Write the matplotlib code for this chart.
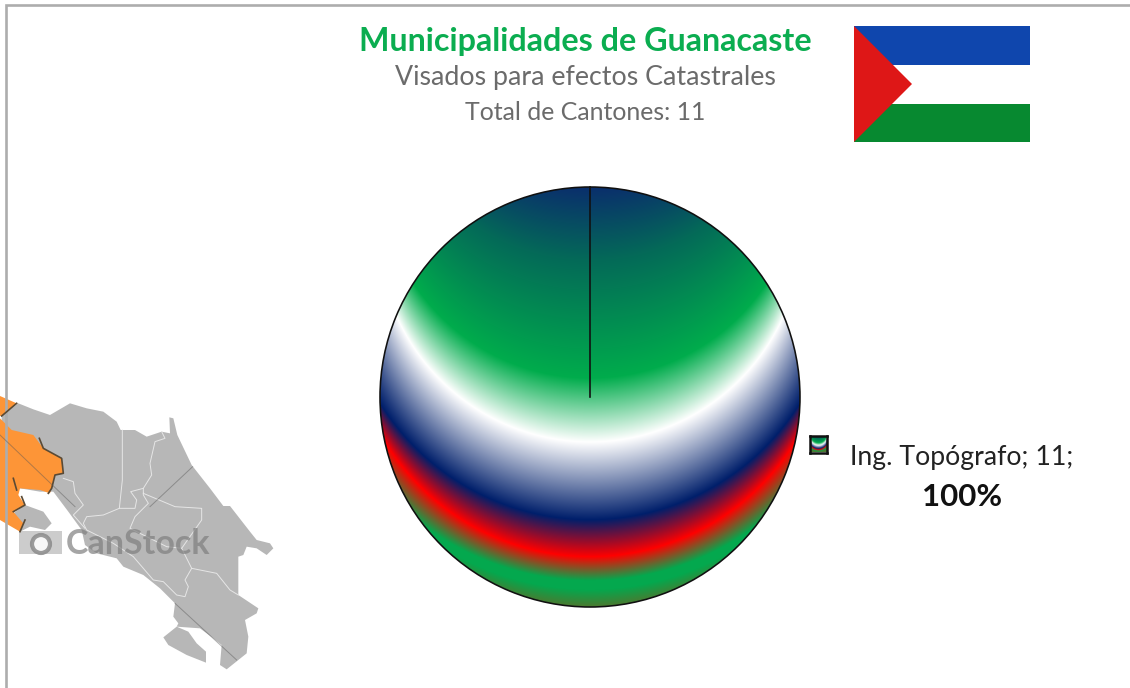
import numpy as np
import matplotlib
matplotlib.use("Agg")
import matplotlib.pyplot as plt
from matplotlib.colors import to_rgb
from matplotlib.patches import Polygon, Rectangle, Circle

plt.rcParams['font.family'] = ['Lato', 'DejaVu Sans']

# data
categories = ["Ing. Topógrafo"]
values = [11]
title = "Municipalidades de Guanacaste"
subtitle = "Visados para efectos Catastrales"
total_label = "Total de Cantones: 11"
percent_label = "100%"

W, H = 1130, 688
fig = plt.figure(figsize=(W / 100, H / 100), dpi=100, facecolor="white")
bg = fig.add_axes([0, 0, 1, 1])
bg.set_xlim(0, W)
bg.set_ylim(H, 0)
bg.axis("off")

# chart frame
bg.plot([5.5, 5.5, 1130], [688, 5, 5], color="#adadad", lw=1.9, solid_joinstyle="miter")

# gradient stops: bottom-of-band pixel row, arc radius, colour
grad_y = [187, 260, 378, 442, 520, 557, 581, 590, 607]
grad_r = [212, 212, 212, 212, 248, 241, 280, 280, 280]
grad_c = ["#0a2f6c", "#046a58", "#00ac4c", "#ffffff", "#001f6b", "#ff0000", "#04a84e", "#04a84e", "#4a7a30"]
CX, CY, RAD = 590, 397, 210


def gradient(n):
    xs = np.linspace(-RAD, RAD, n)
    ys = np.linspace(CY - RAD, CY + RAD, n)
    rgb = np.array([to_rgb(c) for c in grad_c])
    img = np.zeros((n, n, 3))
    for j, dx in enumerate(xs):
        sag = np.array([r - np.sqrt(max(r * r - dx * dx, 0)) for r in grad_r])
        rows = np.maximum.accumulate(np.array(grad_y) - sag + np.arange(len(grad_y)) * 1e-3)
        for k in range(3):
            img[:, j, k] = np.interp(ys, rows, rgb[:, k])
    return img


pad = RAD * 1.01
ax = fig.add_axes([(CX - pad) / W, 1 - (CY + pad) / H, 2 * pad / W, 2 * pad / H])
wedges, _ = ax.pie(values, startangle=90, counterclock=False, radius=1,
                   wedgeprops=dict(facecolor="none", edgecolor="#101010", linewidth=1.15))
im = ax.imshow(gradient(420), extent=(-1, 1, -1, 1), origin="upper",
               interpolation="bilinear", aspect="equal", zorder=0)
im.set_clip_path(Circle((0, 0), 1, transform=ax.transData))
ax.set_xlim(-1.01, 1.01)
ax.set_ylim(-1.01, 1.01)
ax.axis("off")
ax.plot([0, 0], [0, 1], color="#111111", lw=1.2)

# legend swatch
sw = fig.add_axes([810 / W, 1 - 452.5 / H, 17 / W, 17 / H])
sw.imshow(gradient(40), extent=(0, 1, 0, 1), aspect="auto", interpolation="bilinear")
sw.set_xticks([])
sw.set_yticks([])
for s in sw.spines.values():
    s.set_color("#111111")
    s.set_linewidth(1.8)

# titles
bg.text(585, 41, title, color="#0bad50", fontsize=23.2, fontweight="bold", ha="center", va="center")
bg.text(585, 78, subtitle, color="#6b6b6b", fontsize=19.3, ha="center", va="center")
bg.text(585, 113, total_label, color="#6b6b6b", fontsize=17.9, ha="center", va="center")
bg.text(962, 457, f"{categories[0]}; {values[0]};", color="#222222", fontsize=19.2, ha="center", va="center")
bg.text(962, 497, percent_label, color="#111111", fontsize=22.5, fontweight="bold", ha="center", va="center")

# flag
bg.add_patch(Rectangle((854, 26), 176, 39, color="#0f46ad", lw=0))
bg.add_patch(Rectangle((854, 104), 176, 38, color="#078930", lw=0))
bg.add_patch(Polygon([(854, 26), (912, 84), (854, 142)], color="#de1717", lw=0))


# map outline (traced in zoomed crop coordinates)
def zm(pts):
    return [(x / 3, 380 + y / 3) for x, y in pts]


map_gray = "#b7b7b7"
land = [(5,108),(55,70),(100,88),(150,105),(210,70),(260,85),(310,95),(350,125),(362,150),(405,150),(440,170),
        (485,155),(510,160),(508,112),(520,115),(532,165),(575,255),(630,325),(670,378),(690,378),(750,455),
        (770,480),(810,490),(820,505),(800,525),(770,505),(740,500),(730,525),(715,530),(715,645),(775,685),
        (770,700),(735,720),(745,770),(740,820),(680,868),(660,855),(665,795),(640,775),(600,745),(530,740),
        (535,730),(520,710),(525,670),(480,625),(430,585),(370,560),(350,535),(290,520),(255,495),(245,450),
        (205,395),(160,335),(120,335),(60,325),(5,130)]
bg.add_patch(Polygon(zm(land), color=map_gray, lw=0))
osa = [(490,772),(530,740),(565,755),(590,790),(618,815),(618,848),(560,825),(505,795)]
bg.add_patch(Polygon(zm(osa), color=map_gray, lw=0))
nicoya = [(40,400),(75,375),(130,395),(155,430),(135,450),(90,440),(60,455)]
bg.add_patch(Polygon(zm(nicoya), color=map_gray, lw=0))

orange = "#fd9537"
o1 = [(0,48),(50,70),(5,108),(0,108)]
o2 = [(0,115),(35,150),(100,165),(130,205),(185,235),(190,280),(165,285),(150,340),(120,330),(60,325),(55,345),
      (75,375),(40,395),(70,430),(60,455),(0,420)]
for o in (o1, o2):
    bg.add_patch(Polygon(zm(o), color=orange, lw=0))
edge = [[(50,70),(5,108)],
        [(118,175),(130,205),(185,235),(190,280),(165,285),(155,325),(145,340)],
        [(65,350),(75,375),(40,395)], [(75,420),(60,455)], [(40,295),(50,330)]]
for e in edge:
    p = zm(e)
    bg.plot(*zip(*p), color="#5a4a35", lw=1.2)
# internal borders
borders = [[(367,150),(367,300),(358,385),(405,385),(410,360),(392,335),(430,325),(455,285),(450,250),(465,185),(495,175),(485,155)],
           [(430,325),(430,345),(445,370),(405,410),(390,445),(440,470),(500,500),(545,505),(605,420),(605,385),(525,380),(430,340)],
           [(358,385),(310,405),(260,410),(250,430),(260,450),(340,490),(400,530),(460,600),(490,605),(530,645),(555,650),(565,620),(555,600),(575,565),(600,570),(650,580),(690,630),(715,645)],
           [(545,505),(575,565)], [(190,295),(220,305),(225,340),(250,375),(220,405),(255,445)]]
for b in borders:
    p = zm(b)
    bg.plot(*zip(*p), color="#e6e6e6", lw=0.7)
# diagonal watermark lines
for d in [[(0,165),(225,380)], [(450,380),(578,260)], [(525,670),(710,840)]]:
    p = zm(d)
    bg.plot(*zip(*p), color="#555555", alpha=0.45, lw=0.7)
# watermark
bg.text(138, 544, "CanStock", color="#7f7f7f", alpha=0.7, fontsize=24.5, fontweight="bold", ha="center", va="center")
bg.add_patch(Rectangle((19, 531), 43, 23, facecolor="#9a9a9a", alpha=0.5, lw=0))
bg.add_patch(Circle((41, 544), 9, facecolor="white", edgecolor="#8a8a8a", lw=3, alpha=0.85))

fig.savefig("out.png", dpi=100)
